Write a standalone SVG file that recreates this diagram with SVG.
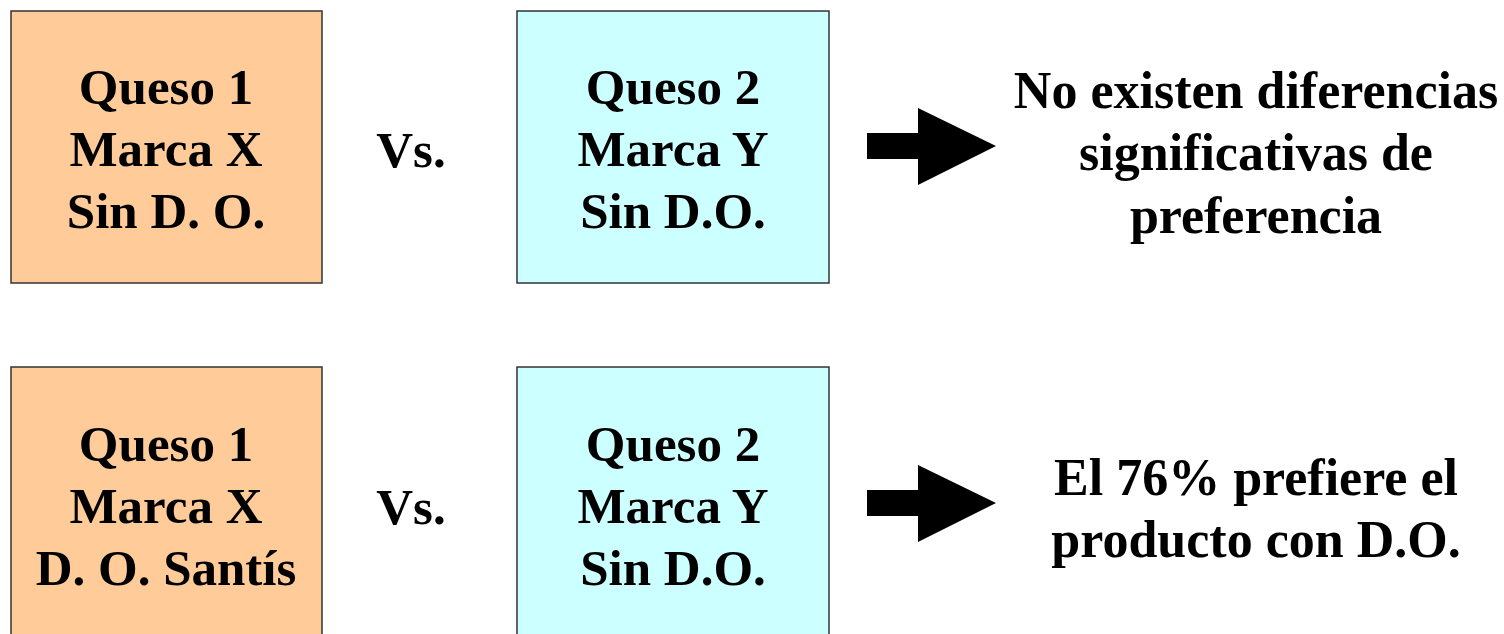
<svg xmlns="http://www.w3.org/2000/svg" width="1504" height="634" viewBox="0 0 1504 634">
<style>
.t{font-family:"Liberation Serif","Times New Roman",serif;font-weight:bold;font-size:51px;fill:#000;text-anchor:middle}
.r{font-size:52px}
.o{fill:#FFCC99;stroke:#333;stroke-width:1.5}
.c{fill:#CCFFFF;stroke:#333;stroke-width:1.5}
.a{fill:#000}
</style>
<rect width="1504" height="634" fill="#fff"/>
<g id="q1-top">
<rect class="o" x="11" y="11" width="311" height="272"/>
<text class="t" x="166" y="104">Queso 1</text>
<text class="t" x="166" y="166">Marca X</text>
<text class="t" x="166" y="228">Sin D. O.</text>
</g>
<g id="vs-top"><text class="t" x="411" y="167">Vs.</text></g>
<g id="q2-top">
<rect class="c" x="517" y="11" width="312" height="272"/>
<text class="t" x="673" y="104">Queso 2</text>
<text class="t" x="673" y="166">Marca Y</text>
<text class="t" x="673" y="228">Sin D.O.</text>
</g>
<g id="res-top">
<text class="t r" x="1256" y="108">No existen diferencias</text>
<text class="t r" x="1256" y="170">significativas de</text>
<text class="t r" x="1256" y="233">preferencia</text>
</g>
<g id="q1-bottom">
<rect class="o" x="11" y="367" width="311" height="280"/>
<text class="t" x="166" y="461">Queso 1</text>
<text class="t" x="166" y="523">Marca X</text>
<text class="t" x="166" y="585">D. O. Santís</text>
</g>
<g id="vs-bottom"><text class="t" x="411" y="524">Vs.</text></g>
<g id="q2-bottom">
<rect class="c" x="517" y="367" width="312" height="280"/>
<text class="t" x="673" y="461">Queso 2</text>
<text class="t" x="673" y="523">Marca Y</text>
<text class="t" x="673" y="585">Sin D.O.</text>
</g>
<g id="res-bottom">
<text class="t r" x="1256" y="495">El 76% prefiere el</text>
<text class="t r" x="1256" y="557">producto con D.O.</text>
</g>
<g id="connectors">
<polygon class="a" points="867,133 918,133 918,108 996,146 918,185 918,159 867,159"/>
<polygon class="a" points="867,490 918,490 918,465 996,503 918,542 918,516 867,516"/>
</g>
</svg>
